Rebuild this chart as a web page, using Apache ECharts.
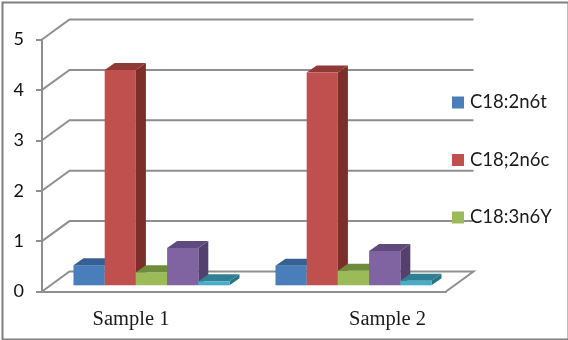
<!DOCTYPE html>
<html>
<head>
<meta charset="utf-8">
<style>html,body{margin:0;padding:0;background:#fff}#c{width:568px;height:340px}</style>
<script src="https://cdn.jsdelivr.net/npm/echarts@6/dist/echarts.min.js"></script>
</head>
<body>
<div id="c"></div>
<script>
const categories = ['Sample 1', 'Sample 2'];
const yTicks = [0, 1, 2, 3, 4, 5];
const seriesNames = ['C18:2n6t', 'C18;2n6c', 'C18:3n6Y', 'C18:3n3', 'C20:0'];
const legendNames = ['C18:2n6t', 'C18;2n6c', 'C18:3n6Y'];
const c18_2n6t = [0.40, 0.39];
const c18_2n6c = [4.27, 4.22];
const c18_3n6y = [0.26, 0.29];
const c18_3n3 = [0.74, 0.68];
const c20_0 = [0.08, 0.09];
const allValues = [c18_2n6t, c18_2n6c, c18_3n6y, c18_3n3, c20_0];
const frontColors = ['#4a7ebb', '#c0504d', '#9bbb59', '#8064a2', '#4bacc6'];
const topColors = ['#376092', '#8f3a37', '#6f8b3c', '#5e4a7c', '#2f7f95'];
const sideColors = ['#355f8f', '#7c2e2b', '#6a8538', '#54406f', '#2a7287'];

const BAR_DX = 10, BAR_DY = 7, BAR_RATIO = 0.1545;
const WALL_DX = 27.5, WALL_DY = 20;
const gridColor = '#8f8f8f';

function barRenderer(si) {
  return function (params, api) {
    const base = api.coord([api.value(0), 0]);
    const top = api.coord([api.value(0), api.value(1)]);
    const w = api.size([1, 0])[0] * BAR_RATIO;
    const x0 = base[0] + (si - 2.5) * w;
    const x1 = x0 + w;
    const yB = base[1], yT = top[1];
    return {
      type: 'group',
      children: [
        { type: 'polygon', shape: { points: [[x1, yT], [x1 + BAR_DX, yT - BAR_DY], [x1 + BAR_DX, yB - BAR_DY], [x1, yB]] }, style: { fill: sideColors[si] } },
        { type: 'polygon', shape: { points: [[x0, yT], [x0 + BAR_DX, yT - BAR_DY], [x1 + BAR_DX, yT - BAR_DY], [x1, yT]] }, style: { fill: topColors[si] } },
        { type: 'rect', shape: { x: x0, y: yT, width: w, height: yB - yT }, style: { fill: frontColors[si] } }
      ]
    };
  };
}

function wallRenderer(params, api) {
  const cs = params.coordSys;
  const v = api.value(1);
  const y = api.coord([0, v])[1];
  const left = cs.x, right = cs.x + cs.width;
  const pts = v === 0
    ? [[left, y], [left + WALL_DX, y - WALL_DY], [right + WALL_DX, y - WALL_DY], [right, y]]
    : [[left, y], [left + WALL_DX, y - WALL_DY], [right + WALL_DX, y - WALL_DY]];
  return { type: 'polyline', shape: { points: pts }, style: { stroke: gridColor, lineWidth: 2, fill: 'none' } };
}

const chart = echarts.init(document.getElementById('c'), null, { renderer: 'canvas' });
chart.setOption({
  animation: false,
  backgroundColor: '#fff',
  color: frontColors,
  graphic: [{
    type: 'rect', left: 0, top: 0, silent: true, z: 100,
    shape: { x: 1, y: 1, width: 566, height: 337 },
    style: { fill: 'none', stroke: '#808080', lineWidth: 2 }
  }],
  legend: {
    data: legendNames, orient: 'vertical', left: 447, top: 88, itemWidth: 12, itemHeight: 12,
    itemGap: 38.5, icon: 'rect', selectedMode: false,
    textStyle: { fontFamily: 'Lato', fontSize: 18.5, color: '#1a1a1a', padding: [0, 0, 0, 1] }
  },
  grid: [
    { left: 42, top: 39.5, width: 404, height: 252 },
    { left: 50.5, top: 33.3, width: 404, height: 252 },
    { left: 2.75, top: 39.5, width: 513, height: 252 }
  ],
  xAxis: [
    { gridIndex: 0, type: 'category', data: categories, axisLine: { lineStyle: { color: gridColor, width: 2 } }, axisTick: { show: false }, axisLabel: { show: false } },
    { gridIndex: 1, type: 'category', data: categories, show: false },
    { gridIndex: 2, type: 'category', data: categories, axisLine: { show: false }, axisTick: { show: false },
      axisLabel: { margin: 18, fontFamily: 'Liberation Serif', fontSize: 20.5, color: '#1a1a1a' } }
  ],
  yAxis: [
    { gridIndex: 0, type: 'value', min: 0, max: 5, interval: 1, splitLine: { show: false },
      axisLine: { show: true, lineStyle: { color: gridColor, width: 2 } },
      axisTick: { show: true, length: 6, lineStyle: { color: gridColor, width: 2 } },
      axisLabel: { margin: 18, fontFamily: 'Lato', fontSize: 18, color: '#111' } },
    { gridIndex: 1, type: 'value', min: 0, max: 5, interval: 1, show: false },
    { gridIndex: 2, type: 'value', min: 0, max: 5, interval: 1, show: false }
  ],
  series: [
    { type: 'custom', name: 'wall', xAxisIndex: 0, yAxisIndex: 0, clip: false, silent: true, z: 1,
      renderItem: wallRenderer, data: yTicks.map(t => [0, t]), encode: { x: 0, y: 1 } }
  ].concat(seriesNames.map((name, si) => ({
    type: 'custom', name: name, xAxisIndex: 1, yAxisIndex: 1, clip: false, z: 2 + si,
    itemStyle: { color: frontColors[si] },
    renderItem: barRenderer(si),
    data: allValues[si].map((v, i) => [i, v]), encode: { x: 0, y: 1 }
  })))
});
</script>
</body>
</html>
